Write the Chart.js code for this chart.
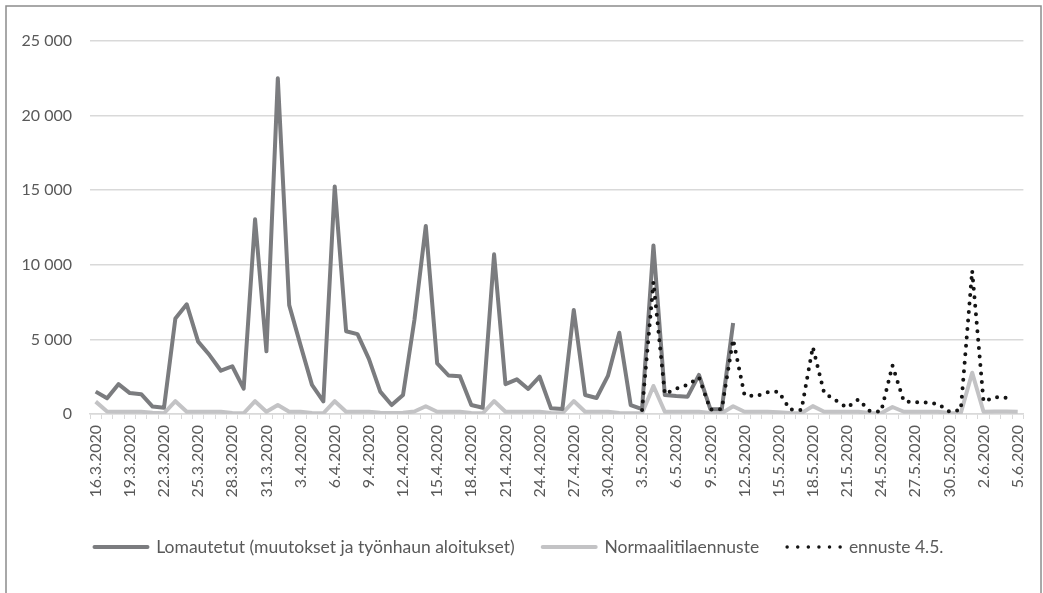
<!DOCTYPE html>
<html>
<head>
<meta charset="utf-8">
<script src="https://cdn.jsdelivr.net/npm/chart.js@4/dist/chart.umd.min.js"></script>
<style>
  html, body { margin: 0; padding: 0; background: #ffffff; }
  #wrap { position: relative; width: 1043px; height: 593px; }
  canvas { display: block; }
</style>
</head>
<body>
<div id="wrap"><canvas id="c" width="1043" height="593"></canvas></div>
<script>
const categories = [
  "16.3.2020","17.3.2020","18.3.2020","19.3.2020","20.3.2020","21.3.2020","22.3.2020","23.3.2020",
  "24.3.2020","25.3.2020","26.3.2020","27.3.2020","28.3.2020","29.3.2020","30.3.2020","31.3.2020",
  "1.4.2020","2.4.2020","3.4.2020","4.4.2020","5.4.2020","6.4.2020","7.4.2020","8.4.2020",
  "9.4.2020","10.4.2020","11.4.2020","12.4.2020","13.4.2020","14.4.2020","15.4.2020","16.4.2020",
  "17.4.2020","18.4.2020","19.4.2020","20.4.2020","21.4.2020","22.4.2020","23.4.2020","24.4.2020",
  "25.4.2020","26.4.2020","27.4.2020","28.4.2020","29.4.2020","30.4.2020","1.5.2020","2.5.2020",
  "3.5.2020","4.5.2020","5.5.2020","6.5.2020","7.5.2020","8.5.2020","9.5.2020","10.5.2020",
  "11.5.2020","12.5.2020","13.5.2020","14.5.2020","15.5.2020","16.5.2020","17.5.2020","18.5.2020",
  "19.5.2020","20.5.2020","21.5.2020","22.5.2020","23.5.2020","24.5.2020","25.5.2020","26.5.2020",
  "27.5.2020","28.5.2020","29.5.2020","30.5.2020","31.5.2020","1.6.2020","2.6.2020","3.6.2020",
  "4.6.2020","5.6.2020"
];

const seriesNames = ["Lomautetut (muutokset ja työnhaun aloitukset)", "Normaalitilaennuste", "ennuste 4.5."];

const lomautetut = [
  1500, 1050, 2000, 1400, 1330, 500, 420, 6400,
  7350, 4850, 3950, 2900, 3200, 1700, 13050, 4200,
  22500, 7300, 4600, 1950, 850, 15250, 5550, 5350,
  3700, 1500, 600, 1270, 6300, 12600, 3400, 2580,
  2530, 600, 420, 10700, 2000, 2320, 1680, 2500,
  380, 330, 6970, 1270, 1070, 2550, 5450, 600,
  320, 11300, 1270, 1200, 1160, 2620, 320, 320,
  6100, null, null, null, null, null, null, null,
  null, null, null, null, null, null, null, null,
  null, null, null, null, null, null, null, null,
  null, null
];

const normaali = [
  830, 170, 150, 150, 150, 80, 50, 860,
  150, 150, 150, 150, 60, 50, 860, 150,
  600, 150, 150, 60, 50, 860, 150, 150,
  150, 80, 60, 80, 170, 520, 150, 150,
  150, 70, 50, 870, 150, 150, 150, 150,
  60, 50, 870, 150, 150, 150, 60, 50,
  50, 1880, 150, 150, 150, 150, 60, 50,
  520, 150, 150, 150, 120, 60, 50, 530,
  150, 150, 150, 150, 60, 50, 470, 150,
  150, 150, 150, 60, 50, 2770, 150, 170,
  170, 150
];

const ennuste = [
  null, null, null, null, null, null, null, null,
  null, null, null, null, null, null, null, null,
  null, null, null, null, null, null, null, null,
  null, null, null, null, null, null, null, null,
  null, null, null, null, null, null, null, null,
  null, null, null, null, null, null, null, null,
  270, 8850, 1340, 1700, 1950, 2450, 300, 330,
  5000, 1270, 1200, 1450, 1500, 300, 260, 4500,
  1400, 920, 430, 980, 200, 150, 3250, 830,
  790, 760, 680, 160, 270, 9600, 830, 1120,
  1090, null
];

const yTicks = [0, 5000, 10000, 15000, 20000, 25000];

const FONT = "Lato, 'Open Sans', sans-serif";
const TXT = "#595959";

const frame = {
  id: 'frame',
  afterDraw(chart) {
    const ctx = chart.ctx;
    ctx.save();
    ctx.strokeStyle = '#8c8c8c';
    ctx.lineWidth = 1.5;
    ctx.strokeRect(6, 6, 1035, 620);
    ctx.restore();
  }
};

new Chart(document.getElementById('c'), {
  type: 'line',
  data: {
    labels: categories,
    datasets: [
      {
        label: seriesNames[0], data: lomautetut, order: 1,
        borderColor: '#7b7c7f', backgroundColor: '#7b7c7f', borderWidth: 4,
        pointRadius: 0, tension: 0, borderJoinStyle: 'round', borderCapStyle: 'butt', fill: false
      },
      {
        label: seriesNames[1], data: normaali, order: 2,
        borderColor: '#c3c3c5', backgroundColor: '#c3c3c5', borderWidth: 4,
        pointRadius: 0, tension: 0, borderJoinStyle: 'round', borderCapStyle: 'butt', fill: false
      },
      {
        label: seriesNames[2], data: ennuste, order: 0,
        borderColor: '#141414', backgroundColor: '#141414', borderWidth: 4,
        borderDash: [0, 8.5], borderCapStyle: 'round', borderJoinStyle: 'round',
        pointRadius: 0, tension: 0, fill: false
      }
    ]
  },
  options: {
    responsive: false,
    animation: false,
    layout: { padding: { left: 12, right: 17, top: 41, bottom: 27.25 } },
    plugins: {
      tooltip: { enabled: false },
      legend: {
        position: 'bottom',
        labels: {
          font: { family: FONT, size: 17.5 },
          color: TXT,
          usePointStyle: false,
          boxWidth: 53,
          boxHeight: 0,
          padding: 28,
          sort: (a, b) => a.datasetIndex - b.datasetIndex,
          generateLabels(chart) {
            const items = Chart.defaults.plugins.legend.labels.generateLabels(chart);
            items.forEach(it => {
              it.lineCap = 'round';
              if (it.datasetIndex === 2) { it.lineDash = [0, 10.6]; it.lineWidth = 3.5; }
            });
            return items;
          }
        }
      }
    },
    scales: {
      x: {
        offset: true,
        afterFit(scale) { scale.height = 96.25; },
        grid: {
          offset: true,
          drawOnChartArea: false,
          drawTicks: true,
          tickLength: 5,
          color: '#d9d9d9',
          lineWidth: 1
        },
        border: { display: true, color: '#d9d9d9', width: 1.5 },
        ticks: {
          autoSkip: false,
          minRotation: 90,
          maxRotation: 90,
          padding: 6,
          color: TXT,
          font: { family: FONT, size: 16 },
          callback(value, index) { return index % 3 === 0 ? categories[index] : ''; }
        }
      },
      y: {
        min: 0,
        max: 25000,
        afterFit(scale) { scale.width = 78; },
        afterBuildTicks(scale) { scale.ticks = yTicks.map(v => ({ value: v })); },
        grid: { color: '#d9d9d9', lineWidth: 1.5, drawTicks: false },
        border: { display: false },
        ticks: {
          padding: 18,
          color: TXT,
          font: { family: FONT, size: 16 },
          callback(v) { return String(v).replace(/\B(?=(\d{3})+(?!\d))/g, ' '); }
        }
      }
    }
  },
  plugins: [frame]
});
</script>
</body>
</html>
